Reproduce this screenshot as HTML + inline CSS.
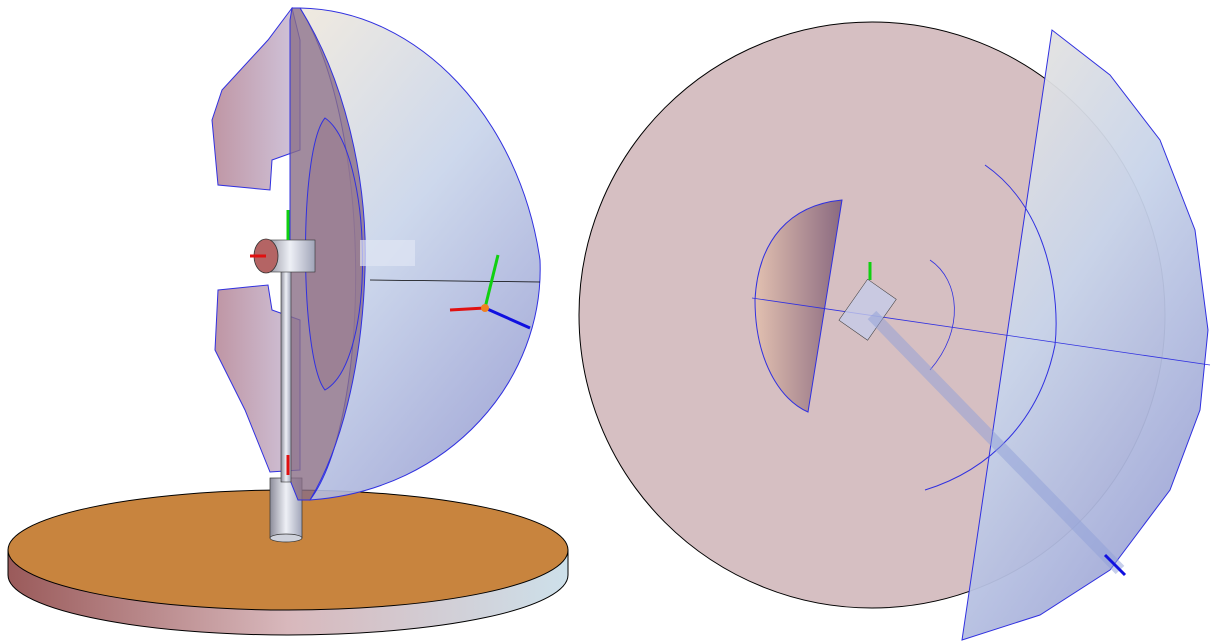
<!DOCTYPE html>
<html><head><meta charset="utf-8"><style>
html,body{margin:0;padding:0;background:#fff;}
svg{display:block;}
</style></head><body>
<svg width="1226" height="642" viewBox="0 0 1226 642">
<defs>
<linearGradient id="side" x1="0" x2="1"><stop offset="0" stop-color="#9a5a5a"/><stop offset="0.5" stop-color="#d8b8bc"/><stop offset="1" stop-color="#cde0ea"/></linearGradient>
<linearGradient id="shell" x1="0" y1="0" x2="0.6" y2="1"><stop offset="0" stop-color="#efe8dc"/><stop offset="0.5" stop-color="#c8d4ea"/><stop offset="1" stop-color="#9fa6d6"/></linearGradient>
<linearGradient id="cshape" x1="0" x2="1"><stop offset="0" stop-color="#b88a9a"/><stop offset="1" stop-color="#cbbfd8"/></linearGradient>
<linearGradient id="inner" x1="0" x2="1"><stop offset="0" stop-color="#e2c0b0"/><stop offset="1" stop-color="#8a6a80"/></linearGradient>
<linearGradient id="pole" x1="0" x2="1"><stop offset="0" stop-color="#8c8c9a"/><stop offset="0.5" stop-color="#eef0f6"/><stop offset="1" stop-color="#a0a4b8"/></linearGradient>
</defs>

<g>
  <path d="M8,550 L8,575 A280,60 0 0 0 568,575 L568,550 Z" fill="url(#side)" stroke="#000" stroke-width="1"/>
  <ellipse cx="288" cy="550" rx="280" ry="60" fill="#c8843e" stroke="#000" stroke-width="1"/>
  <rect x="270" y="478" width="32" height="60" fill="url(#pole)" stroke="#333" stroke-width="0.7"/>
  <ellipse cx="286" cy="538" rx="16" ry="4" fill="#cfd2dc" stroke="#333" stroke-width="0.7"/>
  <path d="M300,8 C420,10 520,120 540,260 C545,380 450,490 310,500 C370,420 375,130 300,8 Z" fill="url(#shell)" fill-opacity="0.9" stroke="#3030e0" stroke-width="1"/>
  <path d="M292,8 L268,40 L222,90 L212,120 L218,185 L270,190 L272,160 L300,150 L300,40 Z" fill="url(#cshape)" fill-opacity="0.9" stroke="#3030e0" stroke-width="1"/>
  <path d="M218,290 L268,285 L272,310 L300,320 L300,470 L270,472 L245,410 L215,350 Z" fill="url(#cshape)" fill-opacity="0.9" stroke="#3030e0" stroke-width="1"/>
  <path d="M292,8 L300,8 C345,80 368,180 365,270 C362,370 340,450 310,500 L298,500 L290,480 L290,20 Z" fill="#8a6e86" fill-opacity="0.8" stroke="#3030e0" stroke-width="1"/>
  <path d="M325,118 C372,150 378,360 325,390 C300,360 298,150 325,118 Z" fill="#9a7c90" fill-opacity="0.6" stroke="#3030e0" stroke-width="1"/>
  <rect x="281" y="262" width="10" height="220" fill="url(#pole)" stroke="#333" stroke-width="0.6"/>
  <rect x="265" y="240" width="50" height="32" fill="url(#pole)" stroke="#333" stroke-width="0.6"/>
  <ellipse cx="266" cy="256" rx="12" ry="17" fill="#b46464" stroke="#333" stroke-width="0.8"/>
  <rect x="360" y="240" width="55" height="26" fill="#dfe6f4" fill-opacity="0.7"/>
  <line x1="370" y1="280" x2="540" y2="282" stroke="#000" stroke-width="0.8"/>
  <line x1="288" y1="240" x2="288" y2="210" stroke="#10d010" stroke-width="3"/>
  <line x1="266" y1="256" x2="250" y2="256" stroke="#e01010" stroke-width="3"/>
  <line x1="288" y1="475" x2="288" y2="455" stroke="#e01010" stroke-width="3"/>
  <line x1="485" y1="308" x2="530" y2="328" stroke="#1010e0" stroke-width="3"/>
  <line x1="485" y1="308" x2="498" y2="255" stroke="#10d010" stroke-width="3"/>
  <line x1="485" y1="308" x2="450" y2="310" stroke="#e01010" stroke-width="3"/>
  <circle cx="485" cy="308" r="4" fill="#f08020"/>
</g>

<g>
  <circle cx="872" cy="315" r="293" fill="#d6bfc2" stroke="#000" stroke-width="1"/>
  <path d="M842,200 L808,412 C780,400 755,360 755,300 C758,240 790,205 842,200 Z" fill="url(#inner)" stroke="#3030e0" stroke-width="1"/>
  <path d="M1052,30 L962,640 L1040,615 L1110,570 L1170,490 L1200,410 L1208,330 L1195,230 L1160,140 L1110,75 Z" fill="url(#shell)" fill-opacity="0.95" stroke="#3030e0" stroke-width="1"/>
  <path d="M985,165 C1050,210 1060,300 1055,345 C1040,420 990,470 925,490" fill="none" stroke="#3030e0" stroke-width="1"/>
  <path d="M930,260 C960,280 965,330 930,370" fill="none" stroke="#3030e0" stroke-width="0.8"/>
  <line x1="752" y1="298" x2="1210" y2="365" stroke="#3030e0" stroke-width="0.8"/>
  <rect x="850" y="285" width="35" height="50" fill="#c6cce8" fill-opacity="0.8" stroke="#333" stroke-width="0.5" transform="rotate(35 868 310)"/>
  <line x1="872" y1="315" x2="1120" y2="570" stroke="#8fa0d8" stroke-width="12" stroke-opacity="0.5"/>
  <line x1="870" y1="280" x2="870" y2="262" stroke="#10d010" stroke-width="3"/>
  <line x1="1105" y1="555" x2="1125" y2="575" stroke="#1010e0" stroke-width="3"/>
</g>
</svg>
</body></html>
